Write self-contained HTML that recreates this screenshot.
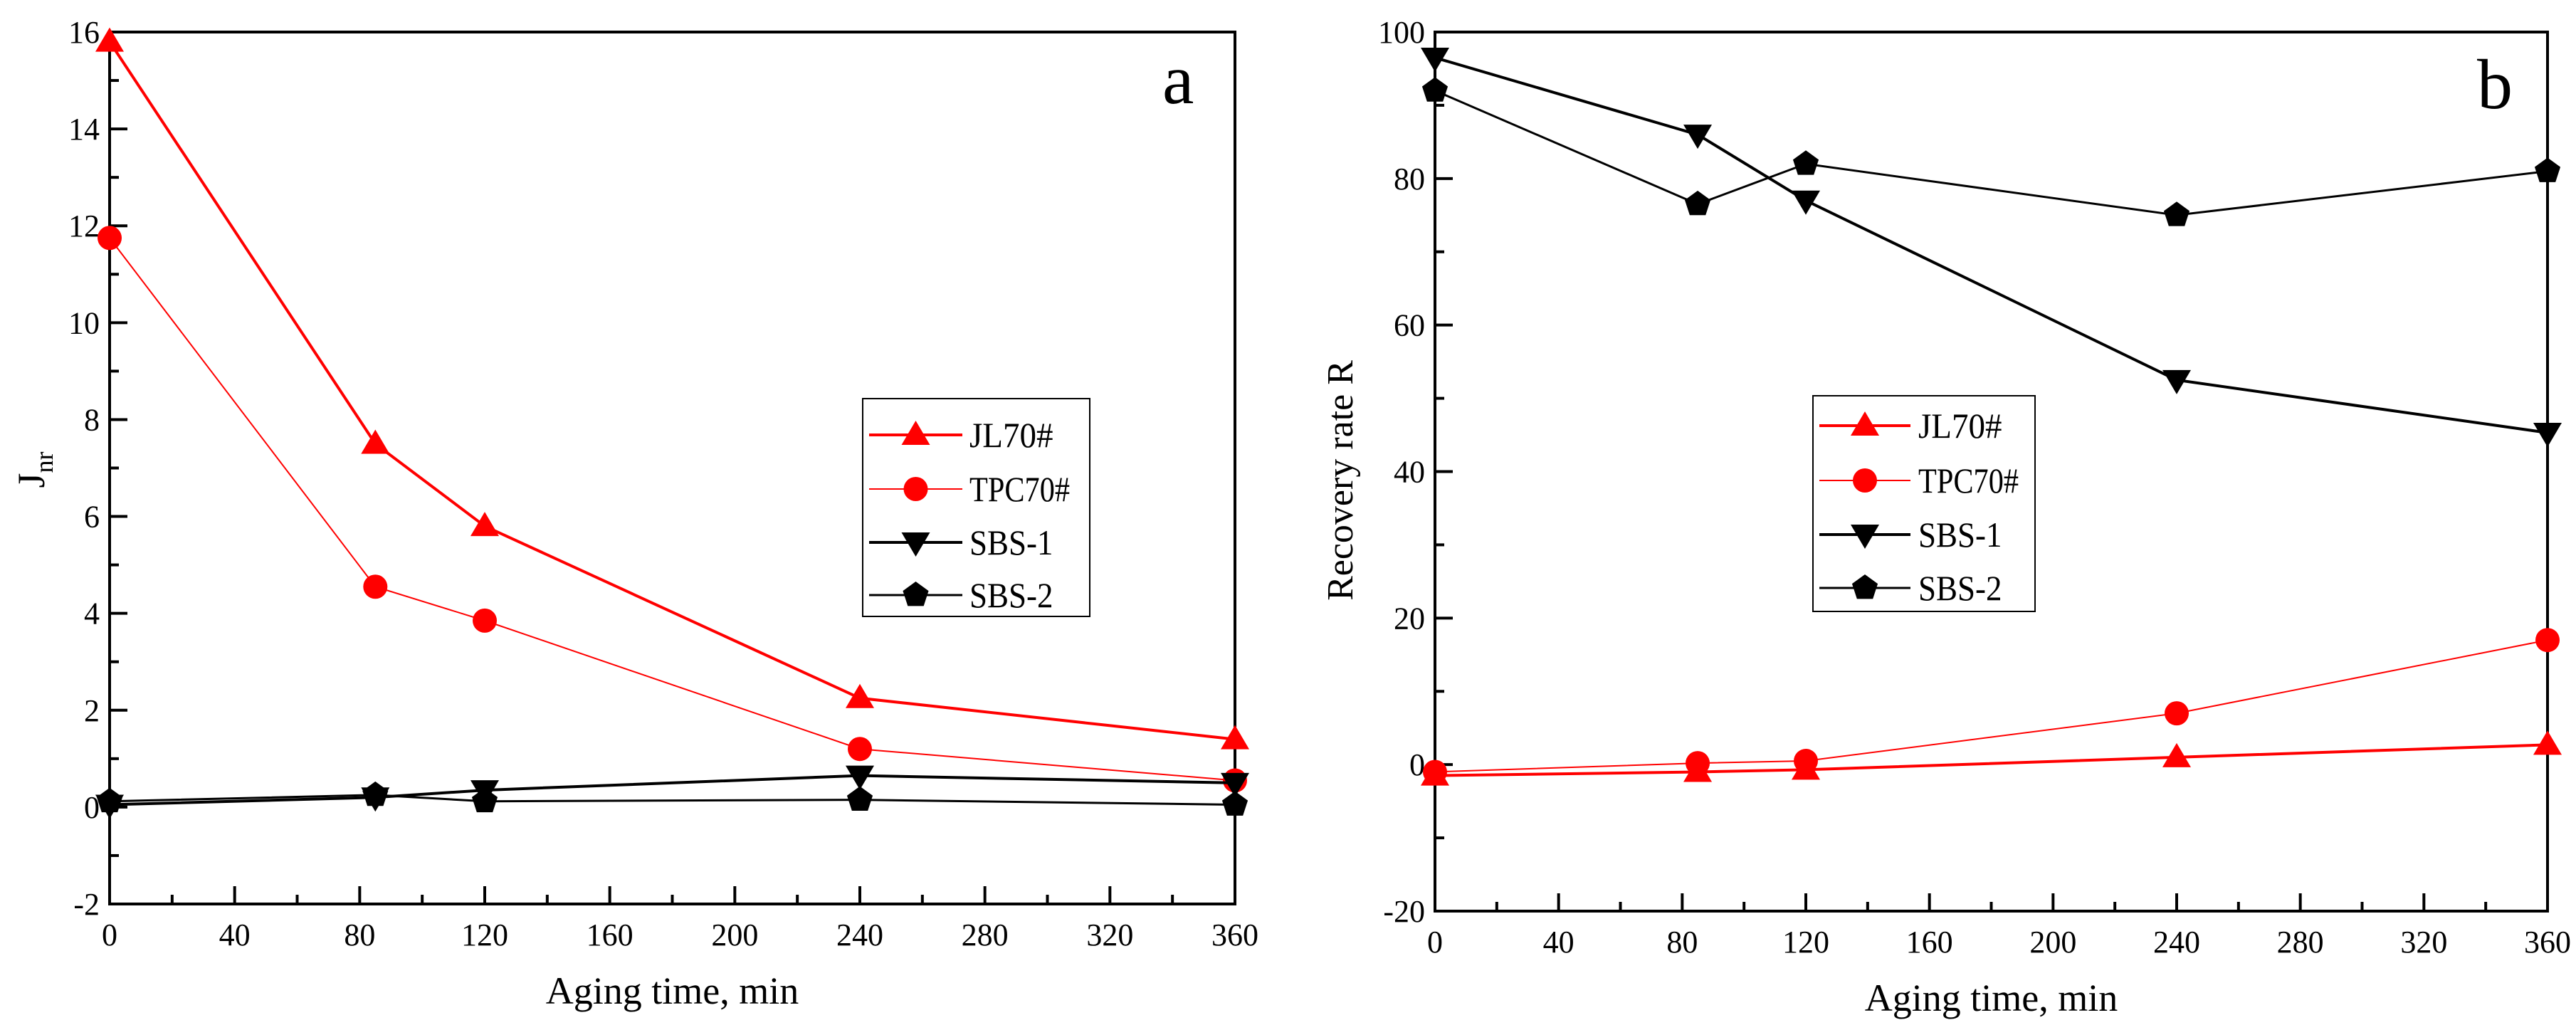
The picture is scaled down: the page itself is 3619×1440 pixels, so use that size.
<!DOCTYPE html>
<html><head><meta charset="utf-8"><style>
body{margin:0;background:#fff}
svg{display:block}
text{font-family:"Liberation Serif","DejaVu Serif",serif;fill:#000}
</style></head><body>
<svg id="s" width="3619" height="1440" viewBox="0 0 3619 1440" xmlns="http://www.w3.org/2000/svg"></svg>
<script>
const ages = [0, 85, 120, 240, 360];
const seriesNames = ["JL70#", "TPC70#", "SBS-1", "SBS-2"];
const jnrJL70 = [15.8, 7.5, 5.8, 2.25, 1.4];
const jnrTPC70 = [11.75, 4.55, 3.85, 1.2, 0.55];
const jnrSBS1 = [0.05, 0.2, 0.35, 0.65, 0.5];
const jnrSBS2 = [0.12, 0.25, 0.12, 0.15, 0.05];
const recJL70 = [-1.5, -1.0, -0.7, 1.0, 2.7];
const recTPC70 = [-1.0, 0.2, 0.5, 7.0, 17.0];
const recSBS1 = [96.5, 86.0, 77.0, 52.5, 45.3];
const recSBS2 = [92.0, 76.5, 82.0, 75.0, 81.0];
const xTicks = [0, 40, 80, 120, 160, 200, 240, 280, 320, 360];
const yTicksA = [-2, 0, 2, 4, 6, 8, 10, 12, 14, 16];
const yTicksB = [-20, 0, 20, 40, 60, 80, 100];

const NS = "http://www.w3.org/2000/svg";
const svg = document.getElementById("s");
function mk(tag, attrs, parent) {
  const e = document.createElementNS(NS, tag);
  for (const k in attrs) e.setAttribute(k, attrs[k]);
  (parent || svg).appendChild(e);
  return e;
}
const styles = [
  {color: "#f00", w: 4, m: "tri"},
  {color: "#f00", w: 2, m: "circ"},
  {color: "#000", w: 4, m: "tri-down"},
  {color: "#000", w: 3, m: "pent"}
];
function marker(g, type, cx, cy, color) {
  const r = 20;
  let el;
  if (type === "circ") {
    el = mk("circle", {cx: cx, cy: cy, r: 17, fill: color}, g);
  } else if (type === "tri") {
    el = mk("polygon", {points: `${cx},${cy - r} ${cx - r},${cy + r * 0.7} ${cx + r},${cy + r * 0.7}`, fill: color}, g);
  } else if (type === "tri-down") {
    el = mk("polygon", {points: `${cx},${cy + r} ${cx - r},${cy - r * 0.7} ${cx + r},${cy - r * 0.7}`, fill: color}, g);
  } else {
    let p = [];
    for (let i = 0; i < 5; i++) { const a = -Math.PI / 2 + i * 2 * Math.PI / 5; p.push((cx + 19 * Math.cos(a)) + "," + (cy + 19 * Math.sin(a))); }
    el = mk("polygon", {points: p.join(" "), fill: color}, g);
  }
  return el;
}
function chart(cfg) {
  const g = mk("g", {});
  
  
  const X = v => cfg.x0 + (v - 0) / 360 * (cfg.x1 - cfg.x0);
  const Y = v => cfg.y0 - (v - cfg.ymin) / (cfg.ymax - cfg.ymin) * (cfg.y0 - cfg.y1);
  // ticks
  for (let v = 0; v <= 360; v += 20) {
    const major = v % 40 === 0;
    const t = mk("line", {x1: X(v), x2: X(v), y1: cfg.y0, y2: cfg.y0 - (major ? 25 : 13), stroke: "#000", "stroke-width": 4}, g);
    
    
  }
  xTicks.forEach(v => {
    const t = mk("text", {x: X(v), y: cfg.y0 + 58, "text-anchor": "middle", "font-size": 44}, g);
    t.textContent = v;
    
    
  });
  for (let v = cfg.ymin; v <= cfg.ymax + 1e-9; v += cfg.minor) {
    const major = Math.abs(((v - cfg.ymin) / cfg.major) - Math.round((v - cfg.ymin) / cfg.major)) < 1e-6;
    const t = mk("line", {x1: cfg.x0, x2: cfg.x0 + (major ? 25 : 13), y1: Y(v), y2: Y(v), stroke: "#000", "stroke-width": 4}, g);
    
    
  }
  cfg.yTicks.forEach(v => {
    const t = mk("text", {x: cfg.x0 - 14, y: Y(v) + 15, "text-anchor": "end", "font-size": 44}, g);
    t.textContent = v;
    
    
  });
  const fr = mk("rect", {x: cfg.x0, y: cfg.y1, width: cfg.x1 - cfg.x0, height: cfg.y0 - cfg.y1, fill: "none", stroke: "#000", "stroke-width": 4}, g);
  
  
  // series
  cfg.series.forEach((vals, i) => {
    const st = styles[i];
    const sg = mk("g", {}, g);
    
    
    const pts = vals.map((v, j) => X(ages[j]) + "," + Y(v)).join(" ");
    const pl = mk("polyline", {points: pts, fill: "none", stroke: st.color, "stroke-width": st.w}, sg);
    
    
    vals.forEach((v, j) => {
      const m = marker(sg, st.m, X(ages[j]), Y(v), st.color);
      
      
    });
  });
  // legend
  const L = cfg.legend;
  const lg = mk("g", {}, g);
  
  
  mk("rect", {x: L.x, y: L.y, width: L.w, height: L.h, fill: "#fff", stroke: "#000", "stroke-width": 2}, lg);
  seriesNames.forEach((n, i) => {
    const st = styles[i];
    const yy = L.rows[i];
    const eg = mk("g", {}, lg);
    
    
    mk("line", {x1: L.lx0, x2: L.lx1, y1: yy, y2: yy, stroke: st.color, "stroke-width": st.w}, eg);
    marker(eg, st.m, (L.lx0 + L.lx1) / 2, yy, st.color);
    const t = mk("text", {x: L.tx, y: yy + 17, "font-size": 50, textLength: n.length * 23.5, lengthAdjust: "spacingAndGlyphs"}, eg);
    t.textContent = n;
  });
  const xt = mk("text", {x: (cfg.x0 + cfg.x1) / 2, y: cfg.y0 + 140, "text-anchor": "middle", "font-size": 54}, g);
  xt.textContent = "Aging time, min";
  
  
  const pl = mk("text", {x: cfg.labX, y: cfg.labY, "font-size": 100}, g);
  pl.textContent = cfg.label;
  
  
  return {g, Y};
}
const a = chart({name: "chart-a", x0: 154, x1: 1735, y0: 1270, y1: 45, ymin: -2, ymax: 16, major: 2, minor: 1,
  yTicks: yTicksA, series: [jnrJL70, jnrTPC70, jnrSBS1, jnrSBS2],
  legend: {x: 1212, y: 560, w: 319, h: 306, rows: [611, 687, 762, 836], lx0: 1221, lx1: 1352, tx: 1362},
  label: "a", labX: 1633, labY: 145});
const ya = mk("text", {transform: "translate(62,660) rotate(-90)", "text-anchor": "middle", "font-size": 54}, a.g);


ya.innerHTML = 'J<tspan font-size="36" dy="12">nr</tspan>';
const b = chart({name: "chart-b", x0: 2016, x1: 3579, y0: 1280, y1: 45, ymin: -20, ymax: 100, major: 20, minor: 10,
  yTicks: yTicksB, series: [recJL70, recTPC70, recSBS1, recSBS2],
  legend: {x: 2547, y: 556, w: 312, h: 303, rows: [598, 675, 751, 826], lx0: 2556, lx1: 2684, tx: 2695},
  label: "b", labX: 3480, labY: 152});
const yb = mk("text", {transform: "translate(1900,675) rotate(-90)", "text-anchor": "middle", "font-size": 52}, b.g);
yb.textContent = "Recovery rate R";


</script>
</body></html>
